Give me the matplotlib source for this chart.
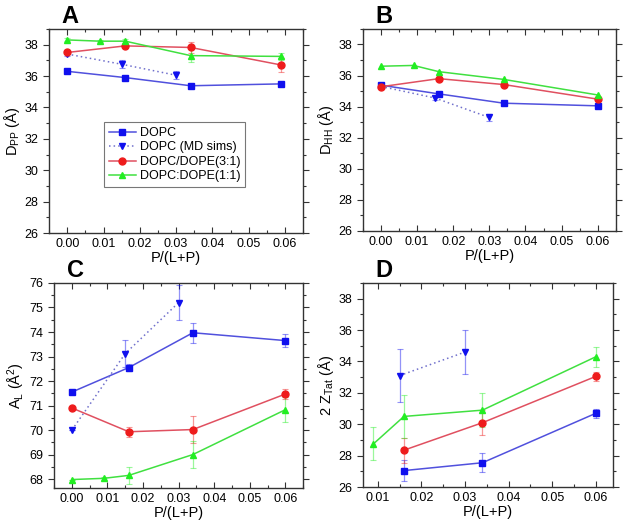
import matplotlib
matplotlib.use("Agg")
import matplotlib.pyplot as plt
from matplotlib.ticker import MultipleLocator

plt.rcParams['font.family'] = ['Liberation Sans', 'DejaVu Sans']
plt.rcParams['mathtext.fontset'] = 'custom'
plt.rcParams['mathtext.rm'] = 'Liberation Sans'
plt.rcParams['mathtext.it'] = 'Liberation Sans'

labels = ['DOPC', 'DOPC (MD sims)', 'DOPC/DOPE(3:1)', 'DOPC:DOPE(1:1)']

# panel A: D_PP
a_x_dopc = [0.0, 0.016, 0.034, 0.059]
a_y_dopc = [36.3, 35.9, 35.38, 35.5]
a_e_dopc = [0.05, 0.05, 0.05, 0.05]
a_x_md = [0.0, 0.015, 0.030]
a_y_md = [37.4, 36.75, 36.05]
a_e_md = [0.15, 0.25, 0.25]
a_x_31 = [0.0, 0.016, 0.034, 0.059]
a_y_31 = [37.5, 37.92, 37.82, 36.7]
a_e_31 = [0.1, 0.15, 0.35, 0.45]
a_x_11 = [0.0, 0.009, 0.016, 0.034, 0.059]
a_y_11 = [38.3, 38.22, 38.22, 37.3, 37.25]
a_e_11 = [0.1, 0.05, 0.15, 0.4, 0.2]

# panel B: D_HH
b_x_dopc = [0.0, 0.016, 0.034, 0.060]
b_y_dopc = [35.38, 34.82, 34.22, 34.05]
b_x_md = [0.0, 0.015, 0.030]
b_y_md = [35.3, 34.55, 33.3]
b_e_md = [0.1, 0.15, 0.2]
b_x_31 = [0.0, 0.016, 0.034, 0.060]
b_y_31 = [35.28, 35.8, 35.42, 34.48]
b_x_11 = [0.0, 0.009, 0.016, 0.034, 0.060]
b_y_11 = [36.6, 36.65, 36.25, 35.75, 34.75]

# panel C: A_L
c_x_dopc = [0.0, 0.016, 0.034, 0.060]
c_y_dopc = [71.55, 72.55, 73.97, 73.65]
c_e_dopc = [0.05, 0.15, 0.4, 0.25]
c_x_md = [0.0, 0.015, 0.030]
c_y_md = [70.0, 73.12, 75.2]
c_e_md = [0.0, 0.55, 0.7]
c_x_31 = [0.0, 0.016, 0.034, 0.060]
c_y_31 = [70.9, 69.93, 70.02, 71.47]
c_e_31 = [0.05, 0.2, 0.55, 0.2]
c_x_11 = [0.0, 0.009, 0.016, 0.034, 0.060]
c_y_11 = [67.98, 68.03, 68.15, 69.0, 70.83]
c_e_11 = [0.0, 0.05, 0.35, 0.55, 0.5]

# panel D: 2 Z_Tat
d_x_dopc = [0.016, 0.034, 0.060]
d_y_dopc = [27.05, 27.55, 30.7]
d_e_dopc = [0.65, 0.6, 0.3]
d_x_md = [0.015, 0.030]
d_y_md = [33.1, 34.6]
d_e_md = [1.7, 1.4]
d_x_31 = [0.016, 0.034, 0.060]
d_y_31 = [28.35, 30.1, 33.05]
d_e_31 = [0.8, 0.8, 0.3]
d_x_11 = [0.009, 0.016, 0.034, 0.060]
d_y_11 = [28.75, 30.5, 30.9, 34.3]
d_e_11 = [1.05, 1.35, 1.1, 0.65]

blue, red, green = '#1010ee', '#ee1c1c', '#22ee22'
styles = [
    dict(color=blue, marker='s', ls='-', lc='#5050dd', ms=4.3),
    dict(color=blue, marker='v', ls=(0, (1, 2)), lc='#7070cc', ms=5),
    dict(color=red, marker='o', ls='-', lc='#e05060', ms=5),
    dict(color=green, marker='^', ls='-', lc='#40e040', ms=5),
]


def draw(ax, x, y, err, k, label=None):
    st = styles[k]
    if err is not None:
        ax.errorbar(x, y, yerr=err, fmt='none', ecolor=st['color'], alpha=0.45,
                    elinewidth=0.9, capsize=2, capthick=0.8, zorder=2)
    ax.plot(x, y, color=st['lc'], ls=st['ls'], lw=1.1, marker=st['marker'],
            ms=st['ms'], mfc=st['color'], mec=st['color'], label=label, zorder=3)


def style(ax, ylabel, letter, xlim, ylim, yticks, ymin):
    ax.set_xlim(*xlim)
    ax.set_ylim(*ylim)
    ax.xaxis.set_major_locator(MultipleLocator(0.01))
    ax.xaxis.set_minor_locator(MultipleLocator(0.005))
    ax.yaxis.set_major_locator(MultipleLocator(yticks))
    ax.yaxis.set_minor_locator(MultipleLocator(ymin))
    ax.xaxis.set_major_formatter(lambda v, p: f'{v:.2f}')
    ax.tick_params(axis='both', which='both', top=True, right=True, labelsize=9,
                   color='#333333', width=0.8)
    ax.tick_params(axis='x', which='both', direction='in')
    ax.tick_params(axis='y', which='both', direction='out')
    ax.tick_params(which='major', length=4)
    ax.tick_params(which='minor', length=2.5)
    for s in ax.spines.values():
        s.set_linewidth(1.0)
        s.set_color('#333333')
    ax.set_xlabel('P/(L+P)', fontsize=10.5, labelpad=1)
    ax.set_ylabel(ylabel, fontsize=10.5, labelpad=2)
    ax.text(0.05, 1.005, letter, transform=ax.transAxes, fontsize=17,
            fontweight='bold', va='bottom', ha='left')


fig = plt.figure(figsize=(6.29, 5.26), dpi=100)
axA = fig.add_axes([0.078, 0.557, 0.404, 0.388])
axB = fig.add_axes([0.577, 0.561, 0.402, 0.384])
axC = fig.add_axes([0.086, 0.072, 0.396, 0.390])
axD = fig.add_axes([0.577, 0.074, 0.398, 0.388])

draw(axA, a_x_dopc, a_y_dopc, a_e_dopc, 0, labels[0])
draw(axA, a_x_md, a_y_md, a_e_md, 1, labels[1])
draw(axA, a_x_31, a_y_31, a_e_31, 2, labels[2])
draw(axA, a_x_11, a_y_11, a_e_11, 3, labels[3])
style(axA, r'D$_{\mathrm{PP}}$ (Å)', 'A', (-0.005, 0.065), (26, 39), 2, 1)
leg = axA.legend(loc='upper left', bbox_to_anchor=(0.19, 0.575), fontsize=9,
                 frameon=True, fancybox=False, edgecolor='#555555',
                 handlelength=2.2, numpoints=1, borderpad=0.4, labelspacing=0.2,
                 handletextpad=0.3)
leg.get_frame().set_linewidth(0.8)

draw(axB, b_x_dopc, b_y_dopc, None, 0)
draw(axB, b_x_md, b_y_md, b_e_md, 1)
draw(axB, b_x_31, b_y_31, None, 2)
draw(axB, b_x_11, b_y_11, None, 3)
style(axB, r'D$_{\mathrm{HH}}$ (Å)', 'B', (-0.005, 0.065), (26, 39), 2, 1)

draw(axC, c_x_dopc, c_y_dopc, c_e_dopc, 0)
draw(axC, c_x_md, c_y_md, c_e_md, 1)
draw(axC, c_x_31, c_y_31, c_e_31, 2)
draw(axC, c_x_11, c_y_11, c_e_11, 3)
style(axC, r'A$_{\mathrm{L}}$ (Å$^{2}$)', 'C', (-0.005, 0.065), (67.63, 76), 1, 0.5)

draw(axD, d_x_dopc, d_y_dopc, d_e_dopc, 0)
draw(axD, d_x_md, d_y_md, d_e_md, 1)
draw(axD, d_x_31, d_y_31, d_e_31, 2)
draw(axD, d_x_11, d_y_11, d_e_11, 3)
style(axD, r'2 Z$_{\mathrm{Tat}}$ (Å)', 'D', (0.0066, 0.064), (26, 39), 2, 1)

fig.savefig('out.png', dpi=100)
